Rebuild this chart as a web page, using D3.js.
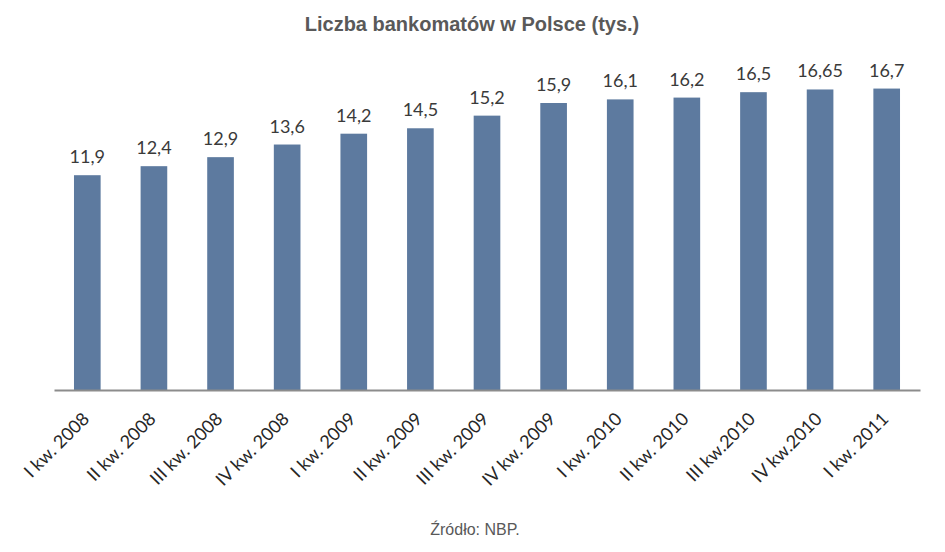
<!DOCTYPE html>
<html>
<head>
<meta charset="utf-8">
<script src="https://cdn.jsdelivr.net/npm/d3@7"></script>
<style>
body { margin: 0; background: #fff; }
</style>
</head>
<body>
<svg></svg>
<script>
// data
var quarters = ["I kw. 2008", "II kw. 2008", "III kw. 2008", "IV kw. 2008",
  "I kw. 2009", "II kw. 2009", "III kw. 2009", "IV kw. 2009",
  "I kw. 2010", "II kw. 2010", "III kw.2010", "IV kw.2010", "I kw. 2011"];
var atms = [11.9, 12.4, 12.9, 13.6, 14.2, 14.5, 15.2, 15.9, 16.1, 16.2, 16.5, 16.65, 16.7];
var valueLabels = ["11,9", "12,4", "12,9", "13,6", "14,2", "14,5", "15,2", "15,9",
  "16,1", "16,2", "16,5", "16,65", "16,7"];

var screen = { width: 945, height: 552 };
var margins = { top: 29, bottom: 162, left: 54, right: 25 };
var width = screen.width - margins.left - margins.right;
var height = screen.height - margins.top - margins.bottom;

var svg = d3.select('svg')
  .attr('width', screen.width)
  .attr('height', screen.height);

var xScale = d3.scaleBand()
  .domain(quarters)
  .range([0, width])
  .paddingInner(0.6)
  .paddingOuter(0.3);
var yScale = d3.scaleLinear()
  .domain([0, 20])
  .range([height, 0]);

var plot = svg.append('g')
  .attr('transform', 'translate(' + margins.left + ',' + margins.top + ')');

// bars
plot.selectAll('rect.bar')
  .data(atms)
  .enter().append('rect')
  .attr('class', 'bar')
  .attr('x', function(d, i) { return xScale(quarters[i]); })
  .attr('y', function(d) { return yScale(d); })
  .attr('width', xScale.bandwidth())
  .attr('height', function(d) { return height - yScale(d); })
  .attr('fill', '#5d7a9f');

// value labels
plot.selectAll('text.val')
  .data(atms)
  .enter().append('text')
  .attr('class', 'val')
  .attr('x', function(d, i) { return xScale(quarters[i]) + xScale.bandwidth() / 2; })
  .attr('y', function(d) { return yScale(d) - 12; })
  .attr('text-anchor', 'middle')
  .attr('font-family', 'Lato, "Open Sans", sans-serif')
  .attr('font-size', 18)
  .attr('fill', '#3a3a3a')
  .text(function(d, i) { return valueLabels[i]; });

// x axis
var xAxis = d3.axisBottom(xScale).tickSize(0).tickPadding(0);
var gx = plot.append('g')
  .attr('transform', 'translate(0,' + height + ')')
  .call(xAxis);
gx.select('.domain')
  .attr('stroke', '#8c8c8c')
  .attr('stroke-width', 2);
gx.selectAll('text')
  .attr('font-family', 'Lato, "Open Sans", sans-serif')
  .attr('font-size', 18)
  .attr('fill', '#262626')
  .attr('text-anchor', 'end')
  .attr('dy', 0)
  .attr('transform', 'translate(3,30) rotate(-45)');

// title
svg.append('text')
  .attr('x', 472)
  .attr('y', 31)
  .attr('text-anchor', 'middle')
  .attr('font-family', '"Liberation Sans", Arial, sans-serif')
  .attr('font-weight', 'bold')
  .attr('font-size', 20)
  .attr('fill', '#595959')
  .text('Liczba bankomatów w Polsce (tys.)');

// source
svg.append('text')
  .attr('x', 475)
  .attr('y', 535)
  .attr('text-anchor', 'middle')
  .attr('font-family', '"Liberation Sans", Arial, sans-serif')
  .attr('font-size', 16)
  .attr('fill', '#595959')
  .text('Źródło: NBP.');
</script>
</body>
</html>
